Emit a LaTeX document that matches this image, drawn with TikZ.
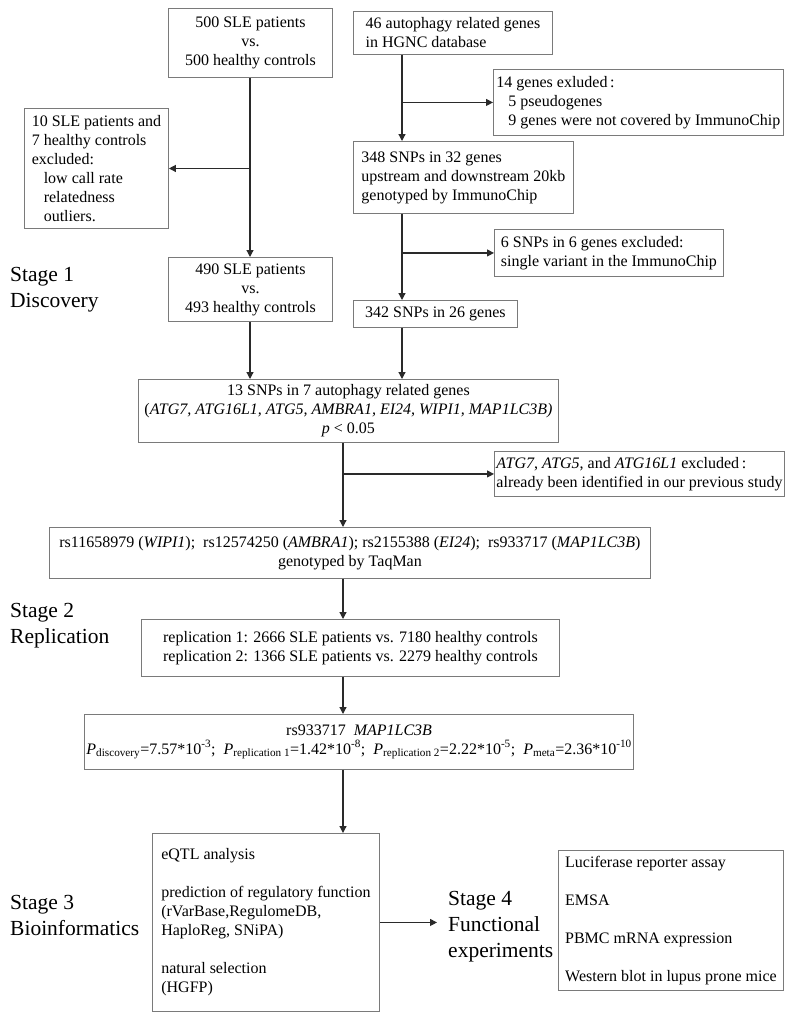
\documentclass[tikz,border=0pt]{standalone}
\usepackage{fontspec}
\setmainfont{Liberation Serif}
\usetikzlibrary{arrows.meta,positioning,calc}
\definecolor{boxgray}{HTML}{7A7A7A}
\definecolor{arrowgray}{HTML}{2A2A2A}

\begin{document}
\begin{tikzpicture}[x=1pt, y=-1pt, font=\fontsize{16}{19}\selectfont]
   \useasboundingbox (0,0) rectangle (792,1023);
   % column positions of the vertical arrows
   \coordinate (colA) at (250,0);
   \coordinate (colB) at (402,0);
   \coordinate (colC) at (343,0);
   \begin{scope}[every node/.style={draw=boxgray, line width=0.9pt, inner sep=2pt, anchor=north west, align=center}]
    \node (p500) [minimum width=164pt, minimum height=69pt] at (168,8) {500 SLE patients\\vs.\\500 healthy controls};
    \node (genes46) [align=left, minimum width=199pt, minimum height=43pt] at (353,11) {46 autophagy related genes\\in HGNC database};
    \node (exclgenes) [align=left, minimum width=290pt, minimum height=66pt] at (493,69) {14 genes exluded\,:\\\hspace*{12pt}5 pseudogenes\\\hspace*{12pt}9 genes were not covered by ImmunoChip};
    \node (exclqc) [align=left, minimum width=144pt, minimum height=120pt] at (24,108) {10 SLE patients and\\7 healthy controls\\excluded:\\\hspace*{12pt}low call rate\\\hspace*{12pt}relatedness\\\hspace*{12pt}outliers.};
    \node (snp348) [align=left, minimum width=220pt, minimum height=72pt] at (353,141) {348 SNPs in 32 genes\\upstream and downstream 20kb\\genotyped by ImmunoChip};
    \node (exclsingle) [align=left, minimum width=229pt, minimum height=47pt] at (494,229) {6 SNPs in 6 genes excluded:\\single variant in the ImmunoChip};
    \node (p490) [minimum width=164pt, minimum height=64pt] at (168,257) {490 SLE patients\\vs.\\493 healthy controls};
    \node (snp342) [minimum width=164pt, minimum height=27pt] at (353,300) {342 SNPs in 26 genes};
    \node (snp13) [minimum width=420pt, minimum height=63pt] at (138,379) {13 SNPs in 7 autophagy related genes\\(\textit{ATG7, ATG16L1, ATG5, AMBRA1, EI24, WIPI1, MAP1LC3B)}\\\textit{p} < 0.05};
    \node (exclknown) [align=left, minimum width=288pt, minimum height=45pt] at (494,451) {\textit{ATG7}, \textit{ATG5}, and \textit{ATG16L1} excluded\,:\\already been identified in our previous study};
    \node (taqman) [minimum width=601pt, minimum height=51pt] at (49,527) {rs11658979 (\textit{WIPI1});~ rs12574250 (\textit{AMBRA1}); rs2155388 (\textit{EI24});~ rs933717 (\textit{MAP1LC3B})\\genotyped by TaqMan};
    \node (repl) [minimum width=418pt, minimum height=57pt] at (141,619) {replication 1: 2666 SLE patients vs. 7180 healthy controls\\replication 2: 1366 SLE patients vs. 2279 healthy controls};
    \node (rs933) [minimum width=534pt, minimum height=55pt] at (84,714) {rs933717~ \textit{MAP1LC3B}\\\textit{P}\textsubscript{discovery}=7.57*10\textsuperscript{-3};~ \textit{P}\textsubscript{replication 1}=1.42*10\textsuperscript{-8};~ \textit{P}\textsubscript{replication 2}=2.22*10\textsuperscript{-5};~ \textit{P}\textsubscript{meta}=2.36*10\textsuperscript{-10}};
    \node (bioinf) [align=left, minimum width=227pt, minimum height=178pt] at (152,833) {eQTL analysis\\[19pt]prediction of regulatory function\\(rVarBase,RegulomeDB,\\HaploReg, SNiPA)\\[19pt]natural selection\\(HGFP)};
    \node (functional) [align=left, minimum width=225pt, minimum height=140pt] at (558,850) {Luciferase reporter assay\\[19pt]EMSA\\[19pt]PBMC mRNA expression\\[19pt]Western blot in lupus prone mice};
   \end{scope}
   \begin{scope}[every node/.style={font=\fontsize{21.5}{26}\selectfont, align=left, anchor=west, inner sep=0pt}]
    \node (stage1) at (10,290) {Stage 1\\Discovery};
    \node (stage2) at (10,626) {Stage 2\\Replication};
    \node (stage3) at (10,915) {Stage 3\\Bioinformatics};
    \node (stage4) [inner xsep=11pt] at (437,927) {Stage 4\\Functional\\experiments};
   \end{scope}
   \begin{scope}[-{Triangle[length=7pt,width=7pt]}, draw=arrowgray, line width=1.2pt]
    \draw (p500.south -| colA) -- (p490.north -| colA);
    \draw (exclqc.east -| colA) -- (exclqc.east);
    \draw (genes46.south -| colB) -- (snp348.north -| colB);
    \draw (exclgenes.west -| colB) -- (exclgenes.west);
    \draw (snp348.south -| colB) -- (snp342.north -| colB);
    \draw (exclsingle.west -| colB) -- (exclsingle.west);
    \draw (p490.south -| colA) -- (snp13.north -| colA);
    \draw (snp342.south -| colB) -- (snp13.north -| colB);
    \draw (snp13.south -| colC) -- (taqman.north -| colC);
    \draw (exclknown.west -| colC) -- (exclknown.west);
    \draw (taqman.south -| colC) -- (repl.north -| colC);
    \draw (repl.south -| colC) -- (rs933.north -| colC);
    \draw (rs933.south -| colC) -- (bioinf.north -| colC);
    \draw (bioinf.east) -- (stage4.west |- bioinf.east);
   \end{scope}
\end{tikzpicture}
\end{document}
